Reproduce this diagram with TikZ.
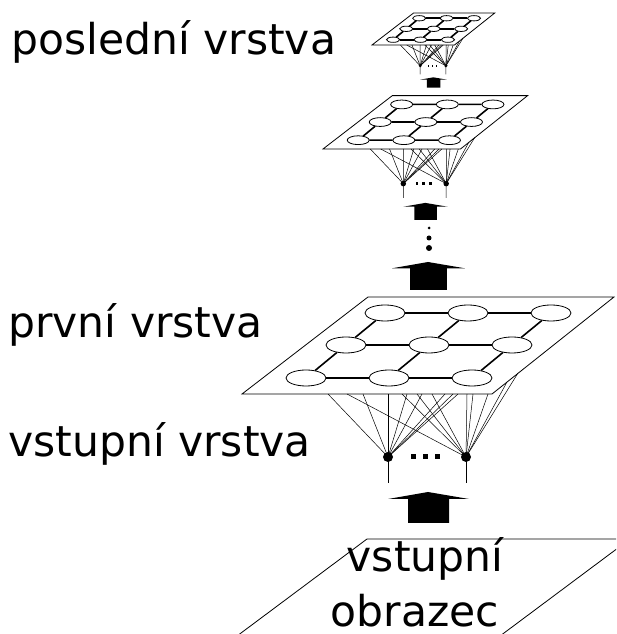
\documentclass[tikz,border=0pt]{standalone}
\usepackage{fontspec}
\setmainfont{DejaVu Sans}
\usetikzlibrary{shapes.geometric}

\tikzstyle{cell}=[ellipse,draw=black,line width=0.8pt,minimum width=40pt,minimum height=16pt,inner sep=0pt]
\tikzstyle{unit}=[circle,fill=black,minimum size=10pt,inner sep=0pt]
\tikzstyle{link}=[line width=1.6pt]
\tikzstyle{wire}=[line width=0.5pt]
\tikzstyle{plane}=[line width=0.8pt]
\tikzstyle{label}=[inner sep=0pt,font=\fontsize{42.5}{50}\selectfont]

% fat arrow, tip at the origin
\newcommand{\thickarrow}{%
	\fill (-40,-7) -- (0,0) -- (41,-7) -- (21,-7) -- (21,-31) -- (-20,-31) -- (-20,-7) -- cycle;}

% one layer: plane with 3x3 cells, two inputs and the arrow below
\newcommand{\layer}[1]{%
	\draw[plane] (0,0) -- (126,97) -- (372,97) -- (250,0) -- cycle;
	\foreach \r/\x/\y in {1/143/81,2/104/49,3/64/16}
		\foreach \c in {0,1,2}
			\node[cell] (#1-c\r\c) at (\x+\c*83,\y) {};
	\foreach \r in {1,2,3}
		\draw[link] (#1-c\r0) -- (#1-c\r1) -- (#1-c\r2);
	\foreach \c in {0,1,2}
		\draw[link] (#1-c1\c) -- (#1-c2\c) -- (#1-c3\c);

	% inputs
	\node[unit] (#1-i1) at (146,-63) {};
	\node[unit] (#1-i2) at (224,-63) {};
	\foreach \x in {86,121,146,165,180,203,211,216}
		\draw[wire] (#1-i1.center) -- (\x,0);
	\foreach \x in {105,160,175,190,225,231,246}
		\draw[wire] (#1-i2.center) -- (\x,0);
	\draw[wire] (#1-i2.center) -- (265,12);
	\draw[wire] (#1-i2.center) -- (276,21);
	\draw[wire] (#1-i1.center) -- (146,-89);
	\draw[wire] (#1-i2.center) -- (224,-89);
	\foreach \x in {171,183,195}
		\fill (\x-2.5,-65.5) rectangle ++(5,5);

	\begin{scope}[shift={(186,-98)}]
		\thickarrow
	\end{scope}}

\begin{document}
\begin{tikzpicture}[x=1pt,y=1pt]
	\useasboundingbox (0,0) rectangle (616,634);

	% input pattern
	\begin{scope}
		\clip (0,0) rectangle (616,634);
		\draw[plane] (233,-5) -- (367,95) -- (630,95) -- (496,-5) -- cycle;
	\end{scope}
	\node[label,anchor=base] (pattern-a) at (425,62) {vstupní};
	\node[label,anchor=base] (pattern-b) at (415,8) {obrazec};

	% layers
	\begin{scope}[shift={(242,240)}]
		\layer{first}
	\end{scope}
	\begin{scope}[shift={(323,485)},scale=0.55,transform shape]
		\layer{second}
	\end{scope}
	\begin{scope}[shift={(372,589)},scale=0.33,transform shape]
		\layer{last}
	\end{scope}

	% between first and second
	\begin{scope}[shift={(428,372)},scale=0.9]
		\thickarrow
	\end{scope}
	\fill (429,406) circle (1.5);
	\fill (429,396) circle (2.5);
	\fill (429,386) circle (3);

	\node[label,anchor=base west] (last-label) at (11,579) {poslední vrstva};
	\node[label,anchor=base west] (first-label) at (8,296) {první vrstva};
	\node[label,anchor=base west] (input-label) at (8,177) {vstupní vrstva};
\end{tikzpicture}
\end{document}
